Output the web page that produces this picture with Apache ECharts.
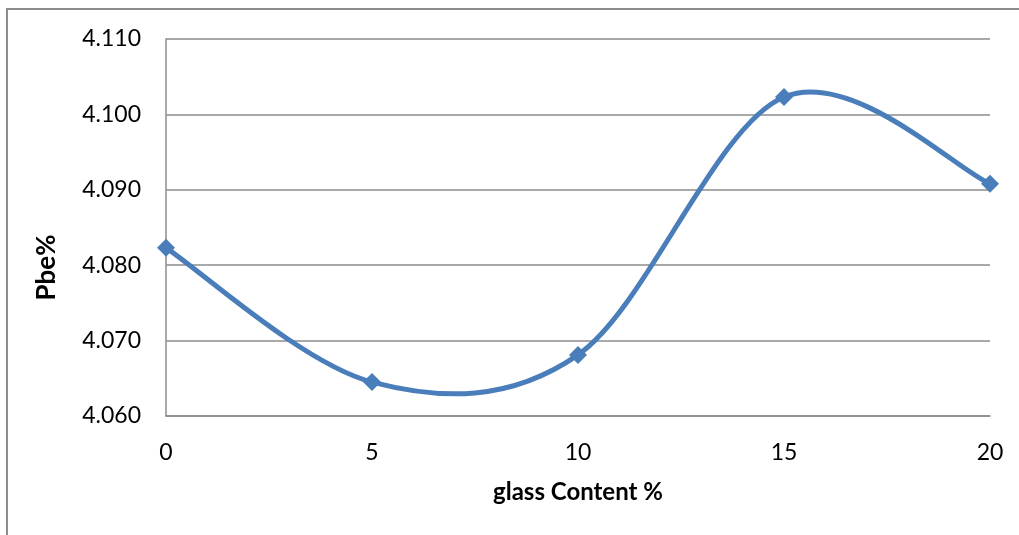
<!DOCTYPE html>
<html>
<head>
<meta charset="utf-8">
<script src="https://cdn.jsdelivr.net/npm/echarts@6/dist/echarts.min.js"></script>
<style>
  html, body { margin: 0; padding: 0; background: #ffffff; }
  #chart { width: 1019px; height: 535px; }
</style>
</head>
<body>
<div id="chart"></div>
<script>
// Glass content (%) on the x axis
const glassContent = ['0', '5', '10', '15', '20'];
// Effective binder content Pbe (%) for each glass content
const pbeValues = [4.0823, 4.0645, 4.0681, 4.1023, 4.0908];

const chart = echarts.init(document.getElementById('chart'));

const FONT = 'Lato, "Open Sans", sans-serif';
const GRID_COLOR = '#8c8c8c';
const LINE_COLOR = '#4a7ebb';

// Smooth curve through the points: each segment is a cubic Bezier whose
// control points follow the Catmull-Rom tangents (neighbour difference / 6).
function renderCurveSegment(params, api) {
  const i = params.dataIndex;
  const n = pbeValues.length;
  if (i >= n - 1) return null;
  const clamp = k => Math.max(0, Math.min(n - 1, k));
  const pt = k => api.coord([clamp(k), pbeValues[clamp(k)]]);
  const p0 = pt(i - 1), p1 = pt(i), p2 = pt(i + 1), p3 = pt(i + 2);
  return {
    type: 'bezierCurve',
    shape: {
      x1: p1[0], y1: p1[1],
      cpx1: p1[0] + (p2[0] - p0[0]) / 6, cpy1: p1[1] + (p2[1] - p0[1]) / 6,
      cpx2: p2[0] - (p3[0] - p1[0]) / 6, cpy2: p2[1] - (p3[1] - p1[1]) / 6,
      x2: p2[0], y2: p2[1]
    },
    style: { stroke: LINE_COLOR, lineWidth: 5, fill: 'none', lineCap: 'round' }
  };
}

chart.setOption({
  animation: false,
  backgroundColor: '#ffffff',
  graphic: [{
    type: 'rect',
    shape: { x: 7, y: 9, width: 1100, height: 600 },
    style: { fill: 'none', stroke: '#8c8c8c', lineWidth: 2 },
    silent: true
  }],
  grid: { left: 166, right: 29, top: 39, bottom: 119 },
  xAxis: {
    type: 'category',
    data: glassContent,
    boundaryGap: false,
    name: 'glass Content %',
    nameLocation: 'middle',
    nameGap: 64,
    nameTextStyle: { fontFamily: FONT, fontWeight: 'bold', fontSize: 24, color: '#000' },
    axisLine: { lineStyle: { color: GRID_COLOR, width: 1.5 } },
    axisTick: { show: false },
    axisLabel: { fontFamily: FONT, fontSize: 23, color: '#000', margin: 25 }
  },
  yAxis: {
    type: 'value',
    min: 4.06,
    max: 4.11,
    interval: 0.01,
    name: 'Pbe%',
    nameLocation: 'middle',
    nameRotate: 90,
    nameGap: 106,
    nameTextStyle: {
      fontFamily: FONT, fontWeight: 'bold', fontSize: 26, color: '#000',
      padding: [0, 80, 0, 0]
    },
    axisLine: { show: true, lineStyle: { color: GRID_COLOR, width: 1.5 } },
    axisTick: { show: false },
    splitLine: { lineStyle: { color: GRID_COLOR, width: 1.5 } },
    axisLabel: {
      fontFamily: FONT, fontSize: 23, color: '#000', margin: 25,
      formatter: v => v.toFixed(3)
    }
  },
  series: [{
    type: 'custom',
    data: pbeValues,
    renderItem: renderCurveSegment,
    z: 2
  }, {
    type: 'scatter',
    data: pbeValues,
    symbol: 'diamond',
    symbolSize: 18,
    itemStyle: { color: LINE_COLOR, opacity: 1 },
    z: 3
  }]
});
</script>
</body>
</html>
